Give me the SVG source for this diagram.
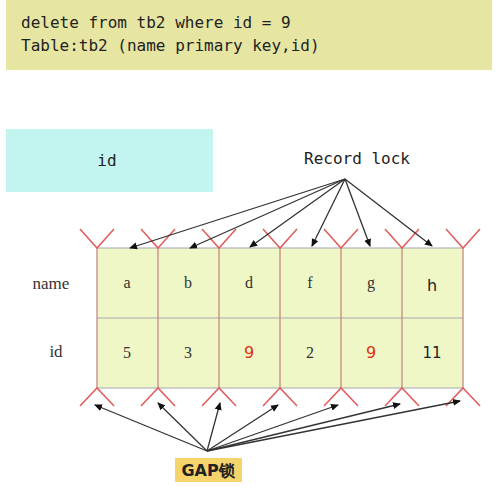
<svg xmlns="http://www.w3.org/2000/svg" width="500" height="489" viewBox="0 0 500 489">
<defs>
<marker id="ah" markerWidth="8" markerHeight="8" refX="7" refY="4" orient="auto" markerUnits="userSpaceOnUse">
<path d="M0,0.5 L8,4 L0,7.5 z" fill="#111"/>
</marker>
<style>
.mono{font-family:"DejaVu Sans Mono","Liberation Mono",monospace;font-size:16px;fill:#222}
.sans{font-family:"DejaVu Sans","Liberation Sans",sans-serif;fill:#222}
.serif{font-family:"Liberation Serif","DejaVu Serif",serif;fill:#333}
.cell{fill:#eff7c6;stroke:none}
.vl{stroke:#c08080;stroke-width:1.2}
.hl{stroke:#a8a8b0;stroke-width:1.2}
.v{fill:none;stroke:#e06060;stroke-width:1.6}
.arr{fill:none;stroke:#333;stroke-width:1.3;marker-end:url(#ah)}
.red{fill:#e03010}
</style>
</defs>
<rect width="500" height="489" fill="#fff"/>
<g id="query">
<rect x="6" y="0" width="486" height="70" fill="#e6e6a2"/>
<text class="mono" x="21" y="28">delete from tb2 where id = 9</text>
<text class="mono" x="21" y="51">Table:tb2 (name primary key,id)</text>
</g>
<g id="id-box">
<rect x="6" y="129" width="207" height="63" fill="#c2f4f0"/>
<text class="mono" x="107" y="166" text-anchor="middle">id</text>
</g>
<g id="record-lock">
<text class="mono" x="357" y="164" text-anchor="middle">Record lock</text>
</g>
<g id="table">
<rect class="cell" x="97" y="248" width="366" height="140"/>
<g>
<line class="hl" x1="97" y1="248" x2="463" y2="248"/>
<line class="hl" x1="97" y1="318" x2="463" y2="318"/>
<line class="hl" x1="97" y1="388" x2="463" y2="388"/>
<line class="vl" x1="97" y1="248" x2="97" y2="388"/>
<line class="vl" x1="158" y1="248" x2="158" y2="388"/>
<line class="vl" x1="219" y1="248" x2="219" y2="388"/>
<line class="vl" x1="280" y1="248" x2="280" y2="388"/>
<line class="vl" x1="341" y1="248" x2="341" y2="388"/>
<line class="vl" x1="402" y1="248" x2="402" y2="388"/>
<line class="vl" x1="463" y1="248" x2="463" y2="388"/>
</g>
<text class="serif" x="51" y="289" font-size="17" text-anchor="middle">name</text>
<text class="serif" x="56" y="357" font-size="17" text-anchor="middle">id</text>
<g font-size="16" text-anchor="middle">
<text class="serif" x="127" y="288">a</text>
<text class="serif" x="188" y="288">b</text>
<text class="serif" x="249" y="288">d</text>
<text class="serif" x="310" y="288">f</text>
<text class="serif" x="371" y="288">g</text>
<text class="sans" x="432" y="291">h</text>
<text class="serif" x="127" y="358">5</text>
<text class="serif" x="188" y="358">3</text>
<text class="sans red" x="249" y="358">9</text>
<text class="serif" x="310" y="358">2</text>
<text class="sans red" x="371" y="358">9</text>
<text class="sans" x="432" y="358" font-size="15">11</text>
</g>
</g>
<g id="gaps-top">
<path class="v" d="M80,229 L97,248 L114,229"/>
<path class="v" d="M141,229 L158,248 L175,229"/>
<path class="v" d="M202,229 L219,248 L236,229"/>
<path class="v" d="M263,229 L280,248 L297,229"/>
<path class="v" d="M324,229 L341,248 L358,229"/>
<path class="v" d="M385,229 L402,248 L419,229"/>
<path class="v" d="M446,229 L463,248 L480,229"/>
</g>
<g id="gaps-bottom">
<path class="v" d="M80,406 L97,388 L114,406"/>
<path class="v" d="M141,406 L158,388 L175,406"/>
<path class="v" d="M202,406 L219,388 L236,406"/>
<path class="v" d="M263,406 L280,388 L297,406"/>
<path class="v" d="M324,406 L341,388 L358,406"/>
<path class="v" d="M385,406 L402,388 L419,406"/>
<path class="v" d="M446,406 L463,388 L480,406"/>
</g>
<g id="gap-lock">
<rect x="175" y="458" width="67" height="24" fill="#f6d46c"/>
<text class="sans" x="208" y="476" font-size="16" font-weight="bold" text-anchor="middle" font-family="'DejaVu Sans','Noto Sans CJK SC',sans-serif">GAP锁</text>
</g>
<g id="connectors">
<line class="arr" x1="345" y1="179" x2="130" y2="248"/>
<line class="arr" x1="345" y1="179" x2="190" y2="248"/>
<line class="arr" x1="345" y1="179" x2="250" y2="247"/>
<line class="arr" x1="345" y1="179" x2="312" y2="246"/>
<line class="arr" x1="345" y1="179" x2="370" y2="246"/>
<line class="arr" x1="345" y1="179" x2="432" y2="246"/>
<line class="arr" x1="207" y1="451" x2="95" y2="405"/>
<line class="arr" x1="207" y1="451" x2="158" y2="403"/>
<line class="arr" x1="207" y1="451" x2="220" y2="403"/>
<line class="arr" x1="207" y1="451" x2="278" y2="405"/>
<line class="arr" x1="207" y1="451" x2="338" y2="405"/>
<line class="arr" x1="207" y1="451" x2="400" y2="404"/>
<line class="arr" x1="207" y1="451" x2="460" y2="401"/>
</g>
</svg>
